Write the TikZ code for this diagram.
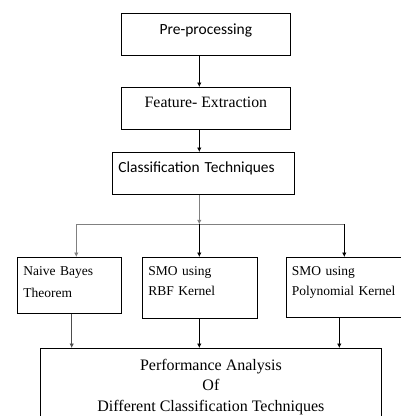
\documentclass[tikz,border=0pt]{standalone}
\usepackage{fontspec}
\setmainfont{Liberation Serif}
\newfontfamily\calfont{Carlito}
\usepackage{xcolor}
\usetikzlibrary{arrows.meta}
\definecolor{fkGray}{RGB}{128,128,128}

\begin{document}
\begin{tikzpicture}[x=1pt, y=-1pt,
    box/.style={draw, line width=0.8pt, anchor=north west, inner ysep=0pt, inner xsep=6pt},
    arr/.style={-{Latex[length=4.5pt, width=4.5pt]}, line width=0.8pt},
    branch/.style={line width=1.3pt, draw=fkGray}
  ]
    \clip (0,0) rectangle (401,416);
    \node[box, minimum width=169pt, text height=21pt, text depth=21pt, font=\calfont\fontsize{15.5}{18}\selectfont] (pre) at (121,13) {Pre-processing};
    \node[box, minimum width=169pt, text height=20pt, text depth=22pt, font=\fontsize{15.8}{18}\selectfont] (feat) at (121,87) {Feature- Extraction};
    \node[box, text width=170pt, align=left, text height=20pt, text depth=22pt, font=\calfont\fontsize{15.4}{18}\selectfont] (cls) at (112,152) {Classification Techniques};
    \node[box, text width=92pt, align=left, text height=18pt, text depth=38pt, font=\fontsize{13.5}{21.7}\selectfont] (nb) at (17,257) {Naive Bayes\\Theorem};
    \node[box, text width=103pt, align=left, text height=18pt, text depth=43pt, font=\fontsize{13.5}{20}\selectfont] (rbf) at (142,257) {SMO using\\RBF Kernel};
    \node[box, text width=130pt, align=left, text height=18pt, text depth=42pt, font=\fontsize{13.5}{20}\selectfont] (poly) at (285.5,257) {SMO using\\Polynomial Kernel};
    \node[box, minimum width=341pt, align=center, text height=62.7pt, text depth=20pt, font=\fontsize{16}{20.4}\selectfont] (perf) at (40,348) {Performance Analysis\\Of\\Different Classification Techniques};
    % spine and fork points
    \coordinate (spine) at (199.3,0);
    \coordinate (fork) at (199.3,224.3);
    \coordinate (forkL) at (76.3,224.3);
    \coordinate (forkR) at (344.3,224.3);
    \draw[arr] (pre.south -| spine) -- (feat.north -| spine);
    \draw[arr] (feat.south -| spine) -- (cls.north -| spine);
    \draw[arr, draw=fkGray] (cls.south -| spine) -- (fork);
    \draw[branch] (forkL) -- (forkR);
    \draw[arr, draw=fkGray, line width=1.1pt] (forkL) -- (nb.north -| forkL);
    \draw[arr] (fork) -- (rbf.north -| fork);
    \draw[arr] (forkR) -- (poly.north -| forkR);
    \draw[arr, draw=fkGray!60!black] (nb.south -| 71.7,0) -- (perf.north -| 71.7,0);
    \draw[arr] (rbf.south -| spine) -- (perf.north -| spine);
    \draw[arr] (poly.south -| 339.3,0) -- (perf.north -| 339.3,0);
\end{tikzpicture}
\end{document}
